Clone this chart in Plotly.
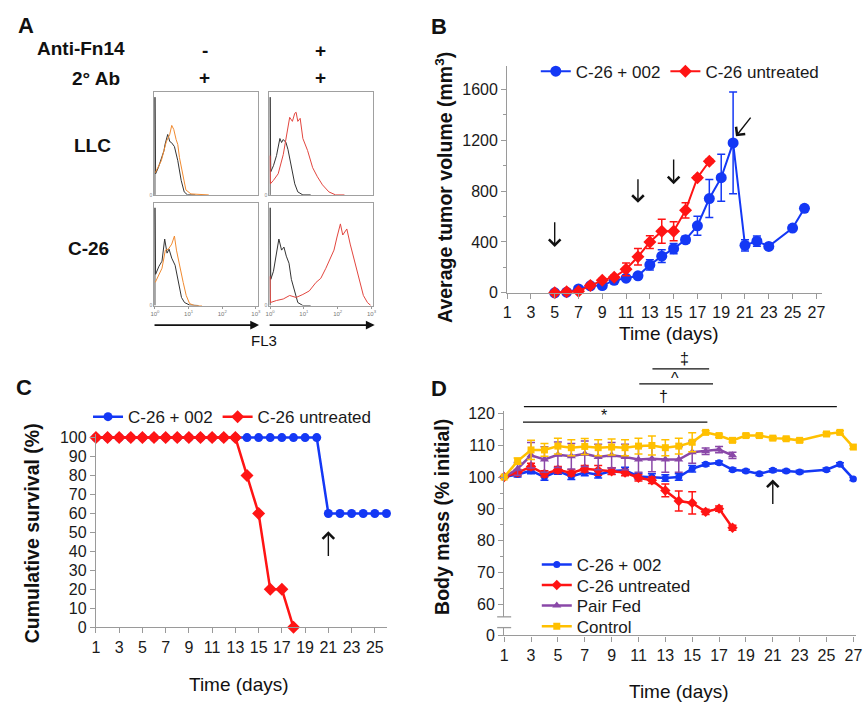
import plotly.graph_objects as go

W, H = 867, 711
def fx(px): return px / W
def fy(py): return 1 - py / H

FONT = "Liberation Sans, Arial, sans-serif"
BLUE = "#1438f5"
RED = "#ff1414"
PURPLE = "#8a48a8"
GOLD = "#ffc000"
AXC = "#9a9a9a"

# ---------------- Panel B data (tumor volume) ----------------
b_days_treated = [5, 6, 7, 8, 9, 10, 11, 12, 13, 14, 15, 16, 17, 18, 19, 20, 21, 22, 23, 25, 26]
b_vol_treated = [0, 5, 30, 55, 57, 98, 115, 134, 219, 288, 347, 417, 527, 741, 905, 1178, 373, 406, 365, 509, 664]
b_err_treated = [8, 10, 12, 12, 15, 15, 15, 15, 40, 50, 40, 28, 75, 150, 185, 400, 45, 40, 15, 15, 15]
b_days_untreated = [5, 6, 7, 8, 9, 10, 11, 12, 13, 14, 15, 16, 17, 18]
b_vol_untreated = [0, 8, 13, 57, 98, 123, 185, 283, 399, 484, 484, 648, 905, 1034]
b_err_untreated = [5, 8, 10, 12, 15, 15, 50, 65, 50, 95, 75, 60, 15, 15]
b_arrow_x = [5, 12, 15, 20.24]
b_arrow_tip = [360, 707, 854, 1230]
b_arrow_tail_x = [5, 12, 15, 21.57]
b_arrow_tail_y = [566, 905, 1060, 1389]

# ---------------- Panel C data (survival) ----------------
c_days_treated = [1, 2, 3, 4, 5, 6, 7, 8, 9, 10, 11, 12, 13, 14, 15, 16, 17, 18, 19, 20, 21, 22, 23, 24, 25, 26]
c_surv_treated = [100, 100, 100, 100, 100, 100, 100, 100, 100, 100, 100, 100, 100, 100, 100, 100, 100, 100, 100, 100,
                  60, 60, 60, 60, 60, 60]
c_days_untreated = [1, 2, 3, 4, 5, 6, 7, 8, 9, 10, 11, 12, 13, 14, 15, 16, 17, 18]
c_surv_untreated = [100, 100, 100, 100, 100, 100, 100, 100, 100, 100, 100, 100, 100, 80, 60, 20, 20, 0]

# ---------------- Panel D data (body mass) ----------------
d_days_treated = [1, 2, 3, 4, 5, 6, 7, 8, 9, 10, 11, 12, 13, 14, 15, 16, 17, 18, 19, 20, 21, 22, 23, 25, 26, 27]
d_mass_treated = [100, 100.8, 102, 100, 101.9, 100.2, 101.4, 100.7, 101.9, 102.1, 100.2, 100, 99.7, 100, 102.6, 104,
                  104.5, 102.3, 101.9, 101, 102.1, 101.9, 101.6, 102.3, 104, 99.4]
d_err_treated = [0, 0.8, 1, 1, 1, 1, 1, 1, 1, 1, 1, 1, 1, 1, 1, 0.5, 0.5, 0.5, 0.5, 0.5, 0.5, 0.5, 0.5, 0.5, 0.5, 0.5]
d_days_untreated = [1, 2, 3, 4, 5, 6, 7, 8, 9, 10, 11, 12, 13, 14, 15, 16, 17, 18]
d_mass_untreated = [100, 101.4, 103.3, 101, 102.3, 101.3, 102.6, 102.1, 101.8, 101.4, 99.8, 99, 95.8, 92.5, 91.9,
                    89.1, 90.1, 84.1]
d_err_untreated = [0, 1, 1, 1, 1, 1, 1, 1.5, 1, 1, 1, 1, 2, 3.1, 3.5, 0.8, 0.8, 0.8]
d_days_pair = [1, 2, 3, 4, 5, 6, 7, 8, 9, 10, 11, 12, 13, 14, 15, 16, 17, 18]
d_mass_pair = [100, 102.6, 106.8, 105.5, 107, 106.5, 107.3, 106.3, 106.8, 106.3, 105.5, 105.7, 105.5, 105.5, 107.8,
               108.1, 108.6, 106.8]
d_err_pair = [0, 2, 4, 4, 4, 4, 4, 4, 4, 4, 4, 4, 4, 4, 3.5, 1, 1, 1]
d_days_control = [1, 2, 3, 4, 5, 6, 7, 8, 9, 10, 11, 12, 13, 14, 15, 16, 17, 18, 19, 20, 21, 22, 23, 25, 26, 27]
d_mass_control = [100, 105, 108.5, 108.5, 109.7, 109.2, 109.6, 109.2, 109.4, 109.2, 109.7, 109.9, 109.2, 109.7,
                  110.9, 114, 113, 111.5, 113, 113, 112.2, 112, 111.5, 113.5, 114, 109.4]
d_err_control = [0, 1, 3, 2, 2.5, 2.5, 2.5, 2.5, 2.5, 2.5, 2.5, 3, 2.5, 2.5, 3, 0.5, 0.5, 0.5, 0.5, 0.5, 0.5, 0.5,
                 0.5, 0.5, 0.5, 0.5]
# significance bars: label, start day, end day, bar level, label day, label level
sig_labels = ["*", "†", "^", "‡"]
sig_start = [2.4, 2.47, 11.06, 12.04]
sig_end = [16.13, 25.77, 16.55, 16.26]
sig_level = [117.2, 122.1, 129.2, 133.9]
sig_label_x = [8.4, 12.9, 13.75, 14.4]
sig_label_y = [119.3, 125.4, 131.0, 137.3]

# ---------------- Panel A data (flow cytometry, log10 FL3 vs relative count) ----------------
llc_iso_x = [0, 0, 0.02, 0.1, 0.19, 0.27, 0.3, 0.34, 0.38, 0.41, 0.44, 0.49, 0.58, 0.68, 0.78, 0.87, 0.97, 1.2]
llc_iso_y = [0, 0.97, 0.21, 0.27, 0.35, 0.44, 0.5, 0.55, 0.6, 0.57, 0.53, 0.52, 0.48, 0.34, 0.145, 0.03, 0, 0]
llc_2nd_x = [0.01, 0.19, 0.34, 0.44, 0.5, 0.56, 0.63, 0.68, 0.73, 0.83, 0.92, 1.07, 1.26, 1.36, 1.6]
llc_2nd_y = [0.22, 0.34, 0.53, 0.6, 0.69, 0.65, 0.55, 0.5, 0.37, 0.18, 0.05, 0.01, 0.007, 0, 0]
llc_iso2_x = [0, 0, 0.02, 0.1, 0.19, 0.29, 0.34, 0.39, 0.47, 0.53, 0.63, 0.73, 0.82, 0.97, 1.2]
llc_iso2_y = [0, 0.97, 0.23, 0.29, 0.39, 0.56, 0.52, 0.55, 0.52, 0.45, 0.29, 0.11, 0.03, 0, 0]
llc_fn14_x = [0, 0.01, 0.1, 0.24, 0.39, 0.53, 0.58, 0.66, 0.73, 0.77, 0.82, 0.89, 0.97, 1.11, 1.26, 1.4, 1.55,
              1.74, 1.94, 2.2]
llc_fn14_y = [0.39, 0.11, 0.145, 0.21, 0.4, 0.66, 0.77, 0.73, 0.81, 0.82, 0.73, 0.76, 0.56, 0.44, 0.27, 0.18, 0.1,
              0.03, 0, 0]
c26_iso_x = [0, 0, 0.02, 0.12, 0.21, 0.29, 0.36, 0.42, 0.5, 0.6, 0.69, 0.79, 0.88, 1.03, 1.3]
c26_iso_y = [0, 0.97, 0.31, 0.39, 0.44, 0.66, 0.52, 0.56, 0.47, 0.4, 0.24, 0.08, 0.03, 0.005, 0]
c26_2nd_x = [0.01, 0.12, 0.21, 0.31, 0.4, 0.5, 0.58, 0.64, 0.74, 0.84, 0.93, 1.03, 1.17, 1.4]
c26_2nd_y = [0.23, 0.31, 0.37, 0.55, 0.56, 0.61, 0.69, 0.55, 0.37, 0.23, 0.1, 0.02, 0, 0]
c26_iso2_x = [0, 0, 0.02, 0.1, 0.19, 0.26, 0.34, 0.41, 0.48, 0.56, 0.63, 0.73, 0.82, 0.97, 1.2]
c26_iso2_y = [0, 0.97, 0.26, 0.34, 0.5, 0.66, 0.55, 0.58, 0.49, 0.42, 0.26, 0.13, 0.03, 0, 0]
c26_fn14_x = [0, 0.01, 0.19, 0.39, 0.58, 0.77, 0.97, 1.16, 1.36, 1.5, 1.65, 1.79, 1.89, 1.98, 2.08, 2.15, 2.27,
              2.37, 2.47, 2.57, 2.66, 2.76, 2.88, 2.98]
c26_fn14_y = [0.29, 0.03, 0.05, 0.065, 0.1, 0.08, 0.11, 0.145, 0.23, 0.27, 0.37, 0.47, 0.55, 0.68, 0.81, 0.7, 0.76,
              0.61, 0.48, 0.34, 0.21, 0.1, 0.03, 0]
flow_ticks = [0, 1, 2, 3]
flow_ticktext = ["10<sup>0</sup>", "10<sup>1</sup>", "10<sup>2</sup>", "10<sup>3</sup>"]

fig = go.Figure()

# ---------- B ----------
fig.add_trace(go.Scatter(x=b_days_treated, y=b_vol_treated, name="C-26 + 002", mode="lines+markers",
                         line=dict(color=BLUE, width=2), marker=dict(symbol="circle", size=11, color=BLUE),
                         error_y=dict(type="data", array=b_err_treated, color=BLUE, thickness=1.5, width=4),
                         xaxis="x", yaxis="y", legend="legend", cliponaxis=False))
fig.add_trace(go.Scatter(x=b_days_untreated, y=b_vol_untreated, name="C-26 untreated", mode="lines+markers",
                         line=dict(color=RED, width=2), marker=dict(symbol="diamond", size=10, color=RED),
                         error_y=dict(type="data", array=b_err_untreated, color=RED, thickness=1.5, width=4),
                         xaxis="x", yaxis="y", legend="legend", cliponaxis=False))

# ---------- C ----------
fig.add_trace(go.Scatter(x=c_days_treated, y=c_surv_treated, name="C-26 + 002", mode="lines+markers",
                         line=dict(color=BLUE, width=2.5), marker=dict(symbol="circle", size=9, color=BLUE),
                         xaxis="x2", yaxis="y2", legend="legend2", cliponaxis=False))
fig.add_trace(go.Scatter(x=c_days_untreated, y=c_surv_untreated, name="C-26 untreated", mode="lines+markers",
                         line=dict(color=RED, width=2.5), marker=dict(symbol="diamond", size=10, color=RED),
                         xaxis="x2", yaxis="y2", legend="legend2", cliponaxis=False))

# ---------- D ----------
d_series = [
    ("C-26 + 002", d_days_treated, d_mass_treated, d_err_treated, BLUE, "circle", 7, "legend3"),
    ("C-26 untreated", d_days_untreated, d_mass_untreated, d_err_untreated, RED, "diamond", 8, "legend4"),
    ("Pair Fed", d_days_pair, d_mass_pair, d_err_pair, PURPLE, "triangle-up", 8, "legend5"),
    ("Control", d_days_control, d_mass_control, d_err_control, GOLD, "square", 7, "legend6"),
]
for name, xs, ys, es, col, sym, sz, lg in d_series:
    fig.add_trace(go.Scatter(x=xs, y=ys, name=name, mode="lines+markers",
                             line=dict(color=col, width=2.5), marker=dict(symbol=sym, size=sz, color=col),
                             error_y=dict(type="data", array=es, color=col, thickness=1.5, width=4),
                             xaxis="x3", yaxis="y3", legend=lg, cliponaxis=False))

D_UP_RANGE = [56.2, 120.8]
D_LOW_RANGE = [0, 2.5]
D_TOP_RANGE = [120.8, 141.8]
# axis-break marks
brk = dict(symbol="line-ew-open", size=10, color=AXC, line=dict(color=AXC, width=1.3))
fig.add_trace(go.Scatter(x=[1], y=[D_UP_RANGE[0]], mode="markers", xaxis="x3", yaxis="y3", showlegend=False,
                         hoverinfo="skip", cliponaxis=False, marker=brk))
fig.add_trace(go.Scatter(x=[1], y=[D_LOW_RANGE[1]], mode="markers", xaxis="x3", yaxis="y4", showlegend=False,
                         hoverinfo="skip", cliponaxis=False, marker=brk))
fig.add_trace(go.Scatter(x=[1], y=[130], mode="markers", xaxis="x3", yaxis="y5", showlegend=False,
                         hoverinfo="skip", marker=dict(opacity=0)))

# ---------- A (flow histograms) ----------
flow = [
    ("x6", "y6", [(llc_iso_x, llc_iso_y, "#333333"), (llc_2nd_x, llc_2nd_y, "#f08a30")]),
    ("x7", "y7", [(llc_iso2_x, llc_iso2_y, "#333333"), (llc_fn14_x, llc_fn14_y, "#e2463f")]),
    ("x8", "y8", [(c26_iso_x, c26_iso_y, "#333333"), (c26_2nd_x, c26_2nd_y, "#f08a30")]),
    ("x9", "y9", [(c26_iso2_x, c26_iso2_y, "#333333"), (c26_fn14_x, c26_fn14_y, "#e2463f")]),
]
for xa, ya, curves in flow:
    for cx, cy, col in curves:
        fig.add_trace(go.Scatter(x=cx, y=cy, mode="lines", line=dict(color=col, width=1), xaxis=xa, yaxis=ya,
                                 showlegend=False, hoverinfo="skip", cliponaxis=False))

tickfont = dict(family=FONT, size=16, color="#1a1a1a")
common = dict(showgrid=False, zeroline=False, showline=True, linecolor=AXC, linewidth=1.2, ticks="outside",
              ticklen=5, tickcolor=AXC, tickwidth=1.2, tickfont=tickfont)
legfont = dict(family=FONT, size=17, color="#1a1a1a")

layout = dict(
    width=W, height=H, margin=dict(l=0, r=0, t=0, b=0), autosize=False,
    paper_bgcolor="white", plot_bgcolor="white", font=dict(family=FONT, color="#111"),
    # B
    xaxis=dict(domain=[fx(509), fx(827.5)], range=[1, 27.47], anchor="y", tick0=1, dtick=2, **common),
    yaxis=dict(domain=[fy(293), fy(61)], range=[0, 1785], anchor="x", tickvals=[0, 400, 800, 1200, 1600],
               minor=dict(tickvals=[200, 600, 1000, 1400], ticks="outside", ticklen=3, tickcolor=AXC), **common),
    # C
    xaxis2=dict(domain=[fx(93), fx(387.5)], range=[1, 26.05], anchor="y2", tick0=1, dtick=2, **common),
    yaxis2=dict(domain=[fy(634.7), fy(437)], range=[0, 102], anchor="x2", tick0=0, dtick=10, **common),
    # D
    xaxis3=dict(domain=[fx(506), fx(862)], range=[1, 27.2], anchor="y4", tick0=1, dtick=2, **common),
    yaxis3=dict(domain=[fy(624), fy(413.4)], range=D_UP_RANGE, anchor="x3",
                tickvals=[60, 70, 80, 90, 100, 110, 120],
                minor=dict(tickvals=[65, 75, 85, 95, 105, 115], ticks="outside", ticklen=3, tickcolor=AXC),
                **common),
    yaxis4=dict(domain=[fy(643), fy(635)], range=D_LOW_RANGE, anchor="x3", tickvals=[0], **common),
    yaxis5=dict(domain=[fy(413.4), fy(345)], range=D_TOP_RANGE, anchor="x3", visible=False),
    legend=dict(orientation="h", x=fx(538), y=fy(67), xanchor="left", yanchor="middle",
                font=legfont, bgcolor="rgba(0,0,0,0)", itemwidth=30, tracegroupgap=0),
    legend2=dict(orientation="h", x=fx(85), y=fy(420), xanchor="left", yanchor="middle",
                 font=legfont, bgcolor="rgba(0,0,0,0)", itemwidth=30),
)
for i, yc in zip([3, 4, 5, 6], [571, 592, 613, 634]):
    layout["legend%d" % i] = dict(x=fx(539), y=fy(yc), xanchor="left", yanchor="middle", font=legfont,
                                  bgcolor="rgba(0,0,0,0)", itemwidth=30)

# flow axes
boxes = {
    "6": ([152, 256.5], [88, 193], False),
    "7": ([268.5, 373.5], [88, 193], False),
    "8": ([152, 256.5], [201, 306], True),
    "9": ([268.5, 373.5], [201, 306], True),
}
for k, (bx, by, labels) in boxes.items():
    xa = dict(domain=[fx(bx[0]), fx(bx[1])], range=[-0.02, 3.05], anchor="y" + k, showgrid=False, zeroline=False,
              showline=True, mirror=True, linecolor="#a0a0a0", linewidth=1)
    if labels:
        xa.update(tickvals=flow_ticks, ticktext=flow_ticktext, ticks="outside", ticklen=2, tickcolor="#999",
                  tickfont=dict(family=FONT, size=6, color="#777"))
    else:
        xa.update(showticklabels=False, ticks="")
    ya = dict(domain=[fy(by[1]), fy(by[0])], range=[0, 1.02], anchor="x" + k, showgrid=False, zeroline=False,
              showline=True, mirror=True, linecolor="#a0a0a0", linewidth=1, tickvals=[0], ticktext=["0"],
              ticks="", tickfont=dict(family=FONT, size=5, color="#888"))
    layout["xaxis" + k] = xa
    layout["yaxis" + k] = ya

fig.update_layout(**layout)

ann = []
def txt(x, y, t, size, bold=False, angle=0, xanchor="center"):
    ann.append(dict(x=fx(x), y=fy(y), xref="paper", yref="paper", text=("<b>%s</b>" % t) if bold else t,
                    showarrow=False, textangle=angle, xanchor=xanchor, yanchor="middle",
                    font=dict(family=FONT, size=size, color="#111")))

# panel letters
txt(22, 20, "A", 22, True)
txt(440, 21, "B", 22, True)
txt(20, 390, "C", 22, True)
txt(440, 391, "D", 22, True)
# A labels
txt(78, 43, "Anti-Fn14", 19, True)
txt(93, 74, "2° Ab", 19, True)
txt(203, 45, "-", 19, True)
txt(320, 45, "+", 19, True)
txt(203, 73, "+", 19, True)
txt(320, 73, "+", 19, True)
txt(90, 143, "LLC", 19, True)
txt(85, 248, "C-26", 19, True)
txt(263, 342, "FL3", 15)
# axis titles
txt(445, 185, "Average tumor volume (mm<sup>3</sup>)", 19.5, True, -90)
txt(673, 335, "Time (days)", 19)
txt(28, 539, "Cumulative survival (%)", 19.5, True, -90)
txt(238, 693, "Time (days)", 19)
txt(443, 522, "Body mass (% initial)", 19.5, True, -90)
txt(683, 700, "Time (days)", 19)

# FL3 arrows
for x0, x1 in [(152, 258), (268.5, 375)]:
    ann.append(dict(x=fx(x1), y=fy(326), xref="paper", yref="paper", ax=-(x1 - x0), ay=0, showarrow=True,
                    arrowhead=2, arrowsize=1.1, arrowwidth=1.6, arrowcolor="#111", text=""))

# B arrows
for xt, yt, xs, ys in zip(b_arrow_x, b_arrow_tip, b_arrow_tail_x, b_arrow_tail_y):
    ann.append(dict(x=xt, y=yt, ax=xs, ay=ys, xref="x", yref="y", axref="x", ayref="y", showarrow=True,
                    arrowhead=4, arrowsize=1.6, arrowwidth=1.4, arrowcolor="#111", text=""))
# C arrow
ann.append(dict(x=21, y=50.6, ax=21, ay=36.8, xref="x2", yref="y2", axref="x2", ayref="y2", showarrow=True,
                arrowhead=4, arrowsize=1.6, arrowwidth=1.4, arrowcolor="#111", text=""))
# D arrow
ann.append(dict(x=21, y=99.2, ax=21, ay=91.1, xref="x3", yref="y3", axref="x3", ayref="y3", showarrow=True,
                arrowhead=4, arrowsize=1.6, arrowwidth=1.4, arrowcolor="#111", text=""))

# D significance bars
shapes = []
for lab, s, e, lv, lx, ly in zip(sig_labels, sig_start, sig_end, sig_level, sig_label_x, sig_label_y):
    yr = "y3" if lv < D_UP_RANGE[1] else "y5"
    shapes.append(dict(type="line", xref="x3", yref=yr, x0=s, x1=e, y0=lv, y1=lv,
                       line=dict(color="#111", width=1.3)))
    ly_ref = "y3" if ly < D_UP_RANGE[1] else "y5"
    ann.append(dict(x=lx, y=ly, xref="x3", yref=ly_ref, text=lab, showarrow=False,
                    font=dict(family=FONT, size=16, color="#111")))

fig.update_layout(annotations=ann, shapes=shapes)
fig.write_html("out.html", config={"displayModeBar": False},
               post_script="document.body.style.margin='0px';")
